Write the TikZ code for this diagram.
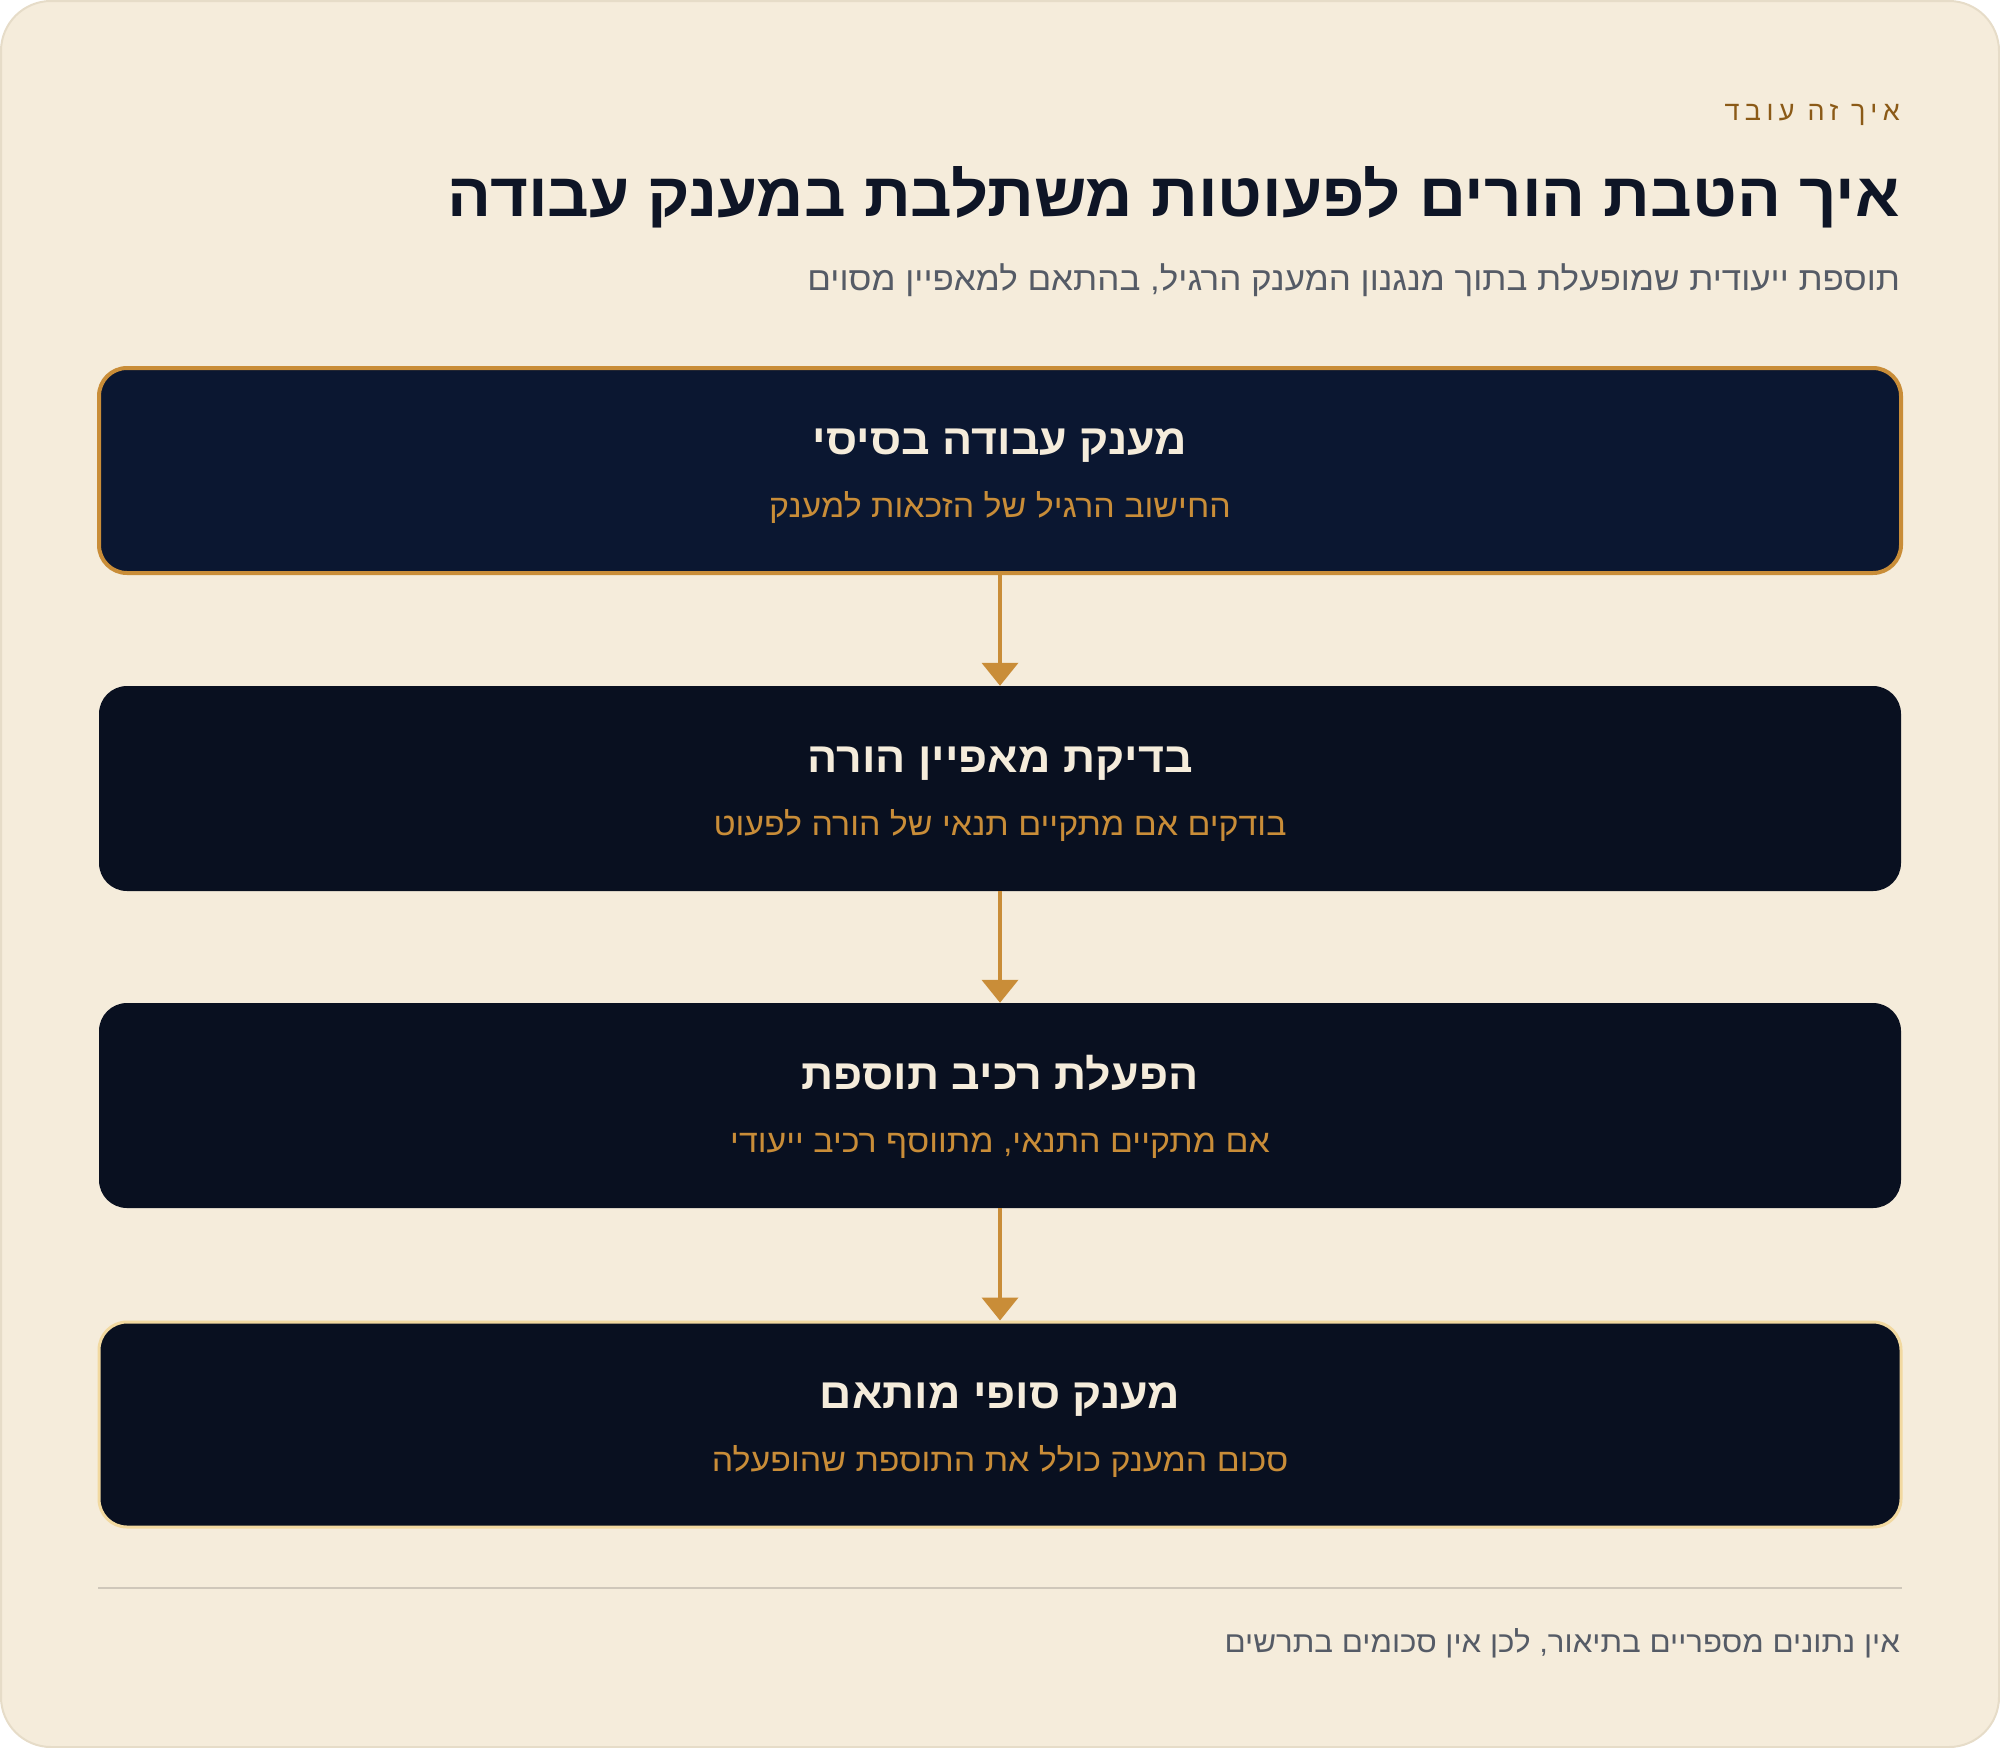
\documentclass[tikz,border=0pt]{standalone}
\usepackage{fontspec}
\setmainfont{Liberation Sans}
\newfontfamily\heb[Script=Hebrew,FakeStretch=1.06]{Liberation Sans}
\newfontfamily\hebsp[Script=Hebrew,LetterSpace=20]{Liberation Sans}
\TeXXeTstate=1
\usetikzlibrary{arrows.meta}
\definecolor{bgcol}{HTML}{F5ECDB}
\definecolor{cardborder}{HTML}{E6DCC8}
\definecolor{boxone}{HTML}{0B1731}
\definecolor{boxdark}{HTML}{091020}
\definecolor{gold}{HTML}{C98D38}
\definecolor{paleg}{HTML}{F2D9A0}
\definecolor{cream}{HTML}{F5ECDB}
\definecolor{brownc}{HTML}{8B5A17}
\definecolor{inkc}{HTML}{0E1526}
\definecolor{grayc}{HTML}{555B66}
\definecolor{sepc}{HTML}{CFC7BA}
\tikzset{
  stepbox/.style={minimum width=1802pt, minimum height=205pt, rounded corners=28pt, inner sep=0pt},
  boxtitle/.style={anchor=base, inner sep=0pt, text=cream, font=\heb\bfseries\fontsize{42.2}{48}\selectfont},
  boxsub/.style={anchor=base, inner sep=0pt, text=gold, font=\heb\fontsize{32}{36}\selectfont},
  flowarrow/.style={draw=gold, line width=4pt, -{Triangle[width=36pt,length=23pt]}},
}
\begin{document}
\begin{tikzpicture}[x=1pt,y=-1pt]
\useasboundingbox (0,0) rectangle (2000,1748);
\draw[fill=bgcol, draw=cardborder, line width=2pt, rounded corners=50pt] (1,1) rectangle (1999,1747);

\node[anchor=base east, inner sep=0pt, text=brownc, font=\hebsp\fontsize{27}{30}\selectfont] (eyebrow) at (1900,120) {\beginR איך זה עובד\endR};
\node[anchor=base east, inner sep=0pt, text=inkc, font=\heb\bfseries\fontsize{61.5}{66}\selectfont] (title) at (1900,216) {\beginR איך הטבת הורים לפעוטות משתלבת במענק עבודה\endR};
\node[anchor=base east, inner sep=0pt, text=grayc, font=\heb\fontsize{33}{36}\selectfont] (subtitle) at (1900,290) {\beginR תוספת ייעודית שמופעלת בתוך מנגנון המענק הרגיל, בהתאם למאפיין מסוים\endR};

\node[stepbox, fill=boxone, draw=gold, line width=4pt] (b1) at (1000,470.5) {};
\node[stepbox, fill=boxdark] (b2) at (1000,788.5) {};
\node[stepbox, fill=boxdark] (b3) at (1000,1105.5) {};
\node[stepbox, fill=boxdark, draw=paleg, line width=3pt] (b4) at (1000,1424.5) {};

\node[boxtitle] (t1) at (1000,454) {\beginR מענק עבודה בסיסי\endR};
\node[boxsub] (s1) at (1000,517) {\beginR החישוב הרגיל של הזכאות למענק\endR};
\node[boxtitle] (t2) at (1000,772) {\beginR בדיקת מאפיין הורה\endR};
\node[boxsub] (s2) at (1000,835) {\beginR בודקים אם מתקיים תנאי של הורה לפעוט\endR};
\node[boxtitle] (t3) at (1000,1089) {\beginR הפעלת רכיב תוספת\endR};
\node[boxsub] (s3) at (1000,1152) {\beginR אם מתקיים התנאי, מתווסף רכיב ייעודי\endR};
\node[boxtitle] (t4) at (1000,1408) {\beginR מענק סופי מותאם\endR};
\node[boxsub] (s4) at (1000,1471) {\beginR סכום המענק כולל את התוספת שהופעלה\endR};

\draw[flowarrow] (b1.south) -- (b2.north);
\draw[flowarrow] (b2.south) -- (b3.north);
\draw[flowarrow] (b3.south) -- (b4.north);

\coordinate (sepL) at (98,1588);
\coordinate (sepR) at (1902,1588);
\draw[draw=sepc, line width=2pt] (sepL) -- (sepR);

\node[anchor=base east, inner sep=0pt, text=grayc, font=\heb\fontsize{29.5}{34}\selectfont] (footer) at (1900,1652) {\beginR אין נתונים מספריים בתיאור, לכן אין סכומים בתרשים\endR};
\end{tikzpicture}
\end{document}
